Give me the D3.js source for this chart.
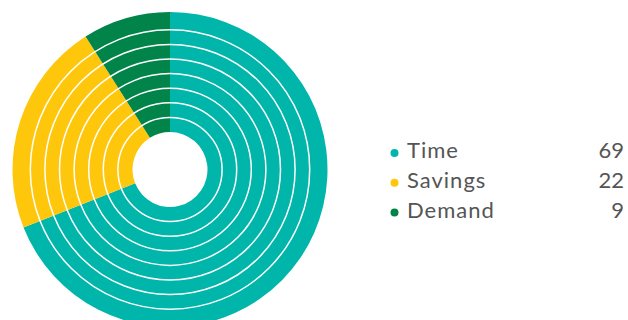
<!DOCTYPE html>
<html>
<head>
<meta charset="utf-8">
<script src="https://cdn.jsdelivr.net/npm/d3@7"></script>
<style>
    body { margin: 0; background: #fff; }
    svg { display: block; }
    .legend text { font-family: Lato, "Open Sans", sans-serif; font-size: 22px; fill: #555; }
    .legend text.name { letter-spacing: 1px; }
</style>
</head>
<body>
<svg id="chart"></svg>
<script>
const categories = ["Time", "Savings", "Demand"];
const values = [69, 22, 9];
const colors = ["#00b5a9", "#fec70c", "#00844a"];
const ringCount = 8;

const width = 628, height = 320;
const cx = 170, cy = 169.5;
const innerR = 37.5, outerR = 157.5;

const svg = d3.select("#chart")
    .attr("width", width)
    .attr("height", height);

const data = categories.map((c, i) => ({ name: c, value: values[i], color: colors[i] }));

const pie = d3.pie()
    .value(d => d.value)
    .sort(null);

const arc = d3.arc()
    .innerRadius(innerR)
    .outerRadius(outerR);

const g = svg.append("g")
    .attr("transform", "translate(" + cx + "," + cy + ")");

g.selectAll("path.slice")
    .data(pie(data))
    .join("path")
    .attr("class", "slice")
    .attr("d", arc)
    .attr("fill", d => d.data.color);

// white concentric rings
const r = d3.scaleLinear().domain([0, ringCount]).range([innerR, innerR + ringCount * 14.6]);
g.selectAll("circle.ring")
    .data(d3.range(1, ringCount))
    .join("circle")
    .attr("class", "ring")
    .attr("r", d => r(d))
    .attr("fill", "none")
    .attr("stroke", "#fff")
    .attr("stroke-width", 1.5);

// legend
const y = d3.scalePoint().domain(categories).range([158, 217.5]);

const legend = svg.append("g").attr("class", "legend");
const rows = legend.selectAll("g")
    .data(data)
    .join("g")
    .attr("transform", d => "translate(0," + y(d.name) + ")");

rows.append("circle")
    .attr("cx", 394.5)
    .attr("cy", -5)
    .attr("r", 4)
    .attr("fill", d => d.color);

rows.append("text")
    .attr("class", "name")
    .attr("x", 407)
    .text(d => d.name);

rows.append("text")
    .attr("x", 624)
    .attr("text-anchor", "end")
    .text(d => d.value);
</script>
</body>
</html>
